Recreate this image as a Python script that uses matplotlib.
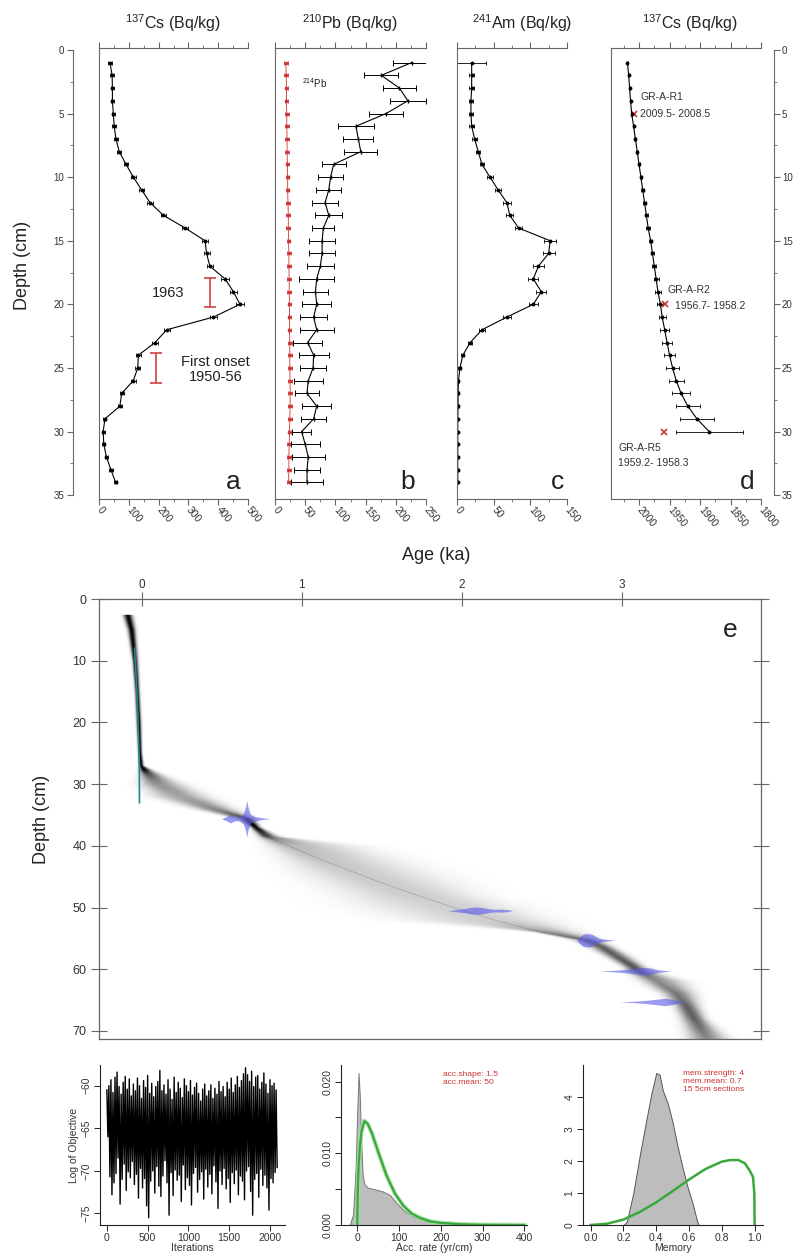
#!/usr/bin/env python3
"""Radionuclide profiles (a-d) and Bacon age-depth model (e) for core GR-A."""

import matplotlib
matplotlib.use("Agg")
import matplotlib.pyplot as plt
import numpy as np
from matplotlib.ticker import MultipleLocator

plt.rcParams["font.family"] = ["Liberation Sans", "DejaVu Sans"]
plt.rcParams["mathtext.fontset"] = "custom"
plt.rcParams["mathtext.rm"] = "Liberation Sans"
plt.rcParams["mathtext.it"] = "Liberation Sans:italic"
plt.rcParams["mathtext.bf"] = "Liberation Sans:bold"

# ---- a-c: activity profiles, one value per cm ----
depth_cm = list(range(1, 35))
cs137 = [37, 44, 45, 45, 48, 51, 57, 68, 91, 115, 143, 171, 216, 289, 356, 361, 372,
         423, 451, 473, 384, 227, 188, 132, 130, 115, 76, 70, 20, 14, 16, 25, 40, 56]
cs137_err = [6, 6, 6, 6, 6, 6, 6, 7, 7, 8, 8, 9, 9, 10, 10, 10, 11, 12, 12, 13, 12, 10,
             9, 8, 8, 8, 7, 7, 5, 5, 5, 5, 6, 6]
cs_event_x = [372, 191]
cs_event_top = [17.9, 23.8]
cs_event_bottom = [20.2, 26.2]

pb210 = [226, 176, 206, 220, 184, 134, 138, 142, 97, 92, 89, 83, 89, 80, 78, 78, 75,
         69, 67, 69, 64, 69, 54, 64, 63, 55, 53, 69, 64, 44, 50, 55, 53, 53]
pb210_err = [30, 28, 28, 30, 28, 30, 25, 27, 20, 20, 21, 22, 22, 18, 22, 21, 22, 29,
             21, 24, 22, 28, 24, 25, 22, 24, 20, 24, 21, 16, 24, 27, 22, 27]
pb214 = [18, 18.5, 19, 19, 19.5, 19.5, 20, 20, 20.5, 21, 21, 21.5, 22, 22, 22.5, 23, 23,
         23.5, 23.5, 24, 24, 24, 24.5, 24.5, 24.5, 25, 25, 25, 24.5, 24, 23.5, 23, 23, 22.5]
pb214_err = [3] * 34

am241 = [20, 20, 20, 19, 19, 20, 24, 29, 34, 45, 56, 68, 72, 84, 127, 125, 111, 104,
         115, 104, 68, 34, 18, 8, 4, 2, 1.5, 1.5, 1, 1, 1, 1, 1, 1]
am241_err = [20, 3, 3, 3, 3, 3, 3, 3, 3, 4, 4, 5, 5, 5, 8, 8, 7, 7, 7, 6, 5, 4, 3, 2,
             2, 1, 1, 1, 1, 1, 1, 1, 1, 1]

# ---- d: CRS ages (year AD) ----
crs_depth = list(range(1, 31))
crs_year = [2019, 2017, 2015.5, 2014, 2012, 2009, 2006, 2003, 2000, 1997, 1994, 1991,
            1988, 1985, 1981, 1978, 1975, 1972, 1969, 1965, 1962, 1958, 1954, 1950,
            1945, 1939, 1931, 1920, 1905, 1885]
crs_err = [1, 1, 1, 1, 1, 1.5, 1.5, 1.5, 2, 2, 2, 2.5, 2.5, 3, 3, 3, 3.5, 4, 4.5, 5, 6,
           7, 8, 9, 10, 12, 15, 20, 28, 55]
gr_depth = [5, 20, 30]
gr_year = [2009, 1957.5, 1958.7]
gr_name = ["GR-A-R1", "GR-A-R2", "GR-A-R5"]
gr_range = ["2009.5- 2008.5", "1956.7- 1958.2", "1959.2- 1958.3"]

# ---- e: age-depth model (ka) ----
band_depth = [2.5, 5, 10, 15, 20, 25, 27, 28, 30, 32, 34, 35.6, 37, 38.5, 40, 42, 44,
              46, 48, 50, 52, 53, 54, 55.3, 56.5, 58, 59.5, 60.3, 62, 64, 66, 68, 70, 71.3]
band_young = [-0.12, -0.09, -0.06, -0.045, -0.035, -0.025, -0.02, -0.015, -0.01, 0.07,
              0.33, 0.60, 0.68, 0.73, 0.79, 0.88, 0.97, 1.11, 1.25, 1.39, 1.65, 2.05,
              2.45, 2.70, 2.80, 2.90, 3.00, 3.03, 3.12, 3.25, 3.33, 3.37, 3.40, 3.41]
band_mid = [-0.09, -0.065, -0.045, -0.03, -0.02, -0.012, -0.005, 0.02, 0.10, 0.25, 0.45,
            0.656, 0.71, 0.78, 0.92, 1.10, 1.30, 1.50, 1.72, 1.95, 2.20, 2.35, 2.50,
            2.78, 2.88, 2.97, 3.06, 3.10, 3.22, 3.34, 3.40, 3.45, 3.50, 3.53]
band_old = [-0.06, -0.04, -0.025, -0.015, -0.005, 0.0, 0.01, 0.08, 0.25, 0.41, 0.57,
            0.70, 0.74, 0.85, 1.30, 1.55, 1.76, 1.95, 2.10, 2.35, 2.55, 2.62, 2.70,
            2.86, 2.95, 3.05, 3.13, 3.18, 3.38, 3.45, 3.48, 3.52, 3.60, 3.66]
pb_model_depth = [8, 15, 22, 27, 33]
pb_model_age = [-0.045, -0.03, -0.02, -0.015, -0.014]
date_depth = [35.6, 50.5, 55.3, 60.3, 65.3]
date_ages = [
    [0.50, 0.53, 0.555, 0.58, 0.61, 0.635, 0.65, 0.656, 0.665, 0.68, 0.71, 0.75, 0.80],
    [1.91, 1.96, 2.01, 2.05, 2.09, 2.13, 2.17, 2.21, 2.25, 2.29, 2.32],
    [2.72, 2.74, 2.76, 2.79, 2.82, 2.85, 2.88, 2.92, 2.96],
    [2.86, 2.94, 3.02, 3.08, 3.13, 3.18, 3.23, 3.31],
    [2.99, 3.07, 3.15, 3.22, 3.27, 3.31, 3.36, 3.42],
]
date_half = [
    [0, 0.35, 0.7, 0.35, 0.3, 0.8, 2.0, 3.0, 1.8, 0.7, 0.35, 0.15, 0],
    [0, 0.15, 0.3, 0.5, 0.6, 0.5, 0.3, 0.2, 0.25, 0.15, 0],
    [0, 0.6, 1.0, 1.1, 0.9, 0.45, 0.2, 0.1, 0],
    [0, 0.1, 0.25, 0.45, 0.6, 0.5, 0.2, 0],
    [0, 0.1, 0.25, 0.45, 0.6, 0.45, 0.15, 0],
]

# ---- bottom: MCMC diagnostics ----
trace_hi = [-60.5, -60.0, -59.3, -60.8, -59.0, -58.4, -60.1, -61.0, -59.6, -58.9, -60.4,
            -59.2, -61.2, -59.8, -60.6, -59.1, -60.0, -61.5, -59.4, -60.2, -58.8, -60.9,
            -59.7, -61.3, -60.1, -59.5, -58.2, -60.6, -59.9, -61.0, -59.3, -60.4, -61.6,
            -59.0, -60.8, -59.6, -60.3, -61.4, -59.2, -60.0, -60.7, -59.4, -61.1, -60.2,
            -59.7, -60.9, -61.8, -60.4, -59.8, -61.2, -60.6, -59.9, -61.5, -60.3, -61.0,
            -59.5, -60.7, -60.1, -61.3, -59.6, -60.4, -59.1, -60.8, -59.9, -58.9, -60.2,
            -59.4, -58.6, -57.9, -58.7, -59.5, -58.3, -60.1, -59.0, -58.8, -60.4, -59.6,
            -58.5, -59.8, -60.9, -59.3, -60.0, -59.7, -60.5]
trace_lo = [-66.0, -70.7, -72.8, -71.4, -70.3, -68.5, -73.9, -71.0, -69.2, -72.3, -70.1,
            -70.8, -68.9, -71.6, -70.4, -73.2, -69.7, -72.0, -70.9, -74.1, -75.5, -71.2,
            -70.0, -72.6, -69.5, -71.8, -73.0, -70.6, -68.8, -71.4, -75.2, -70.2, -72.9,
            -69.9, -71.1, -70.5, -73.6, -69.3, -72.2, -70.8, -71.7, -74.0, -70.3, -69.6,
            -72.5, -71.0, -70.1, -73.3, -69.8, -71.9, -70.4, -72.7, -69.4, -71.3, -74.4,
            -70.0, -71.6, -69.7, -72.1, -70.9, -73.7, -70.2, -71.5, -69.9, -72.8, -70.6,
            -71.2, -73.4, -70.0, -69.5, -72.4, -75.2, -71.0, -70.3, -73.1, -69.8, -71.7,
            -70.5, -72.0, -74.6, -70.9, -71.4, -70.2, -69.6]
trace_step = 25

acc_x = [-18, -10, -4, 0, 3, 6, 9, 13, 17, 25, 40, 60, 78, 95, 110, 134, 166, 206, 250]
acc_post = [0, 0.0015, 0.008, 0.016, 0.0212, 0.018, 0.012, 0.007, 0.0057, 0.0052, 0.0050,
            0.0047, 0.0042, 0.0030, 0.0021, 0.0012, 0.0005, 0.0002, 0]
acc_prior_x = [0, 1, 3, 6, 10, 17, 25, 35, 50, 70, 90, 110, 130, 150, 175, 200, 250, 300, 400]
acc_prior = [0, 0.0046, 0.0080, 0.0108, 0.0130, 0.0145, 0.0141, 0.0128, 0.0102, 0.0069,
             0.0044, 0.0027, 0.0016, 0.0010, 0.0005, 0.0003, 0.0001, 0.00003, 0]
mem_x = [0.20, 0.22, 0.26, 0.30, 0.34, 0.37, 0.40, 0.42, 0.44, 0.47, 0.50, 0.53, 0.56,
         0.59, 0.62, 0.65, 0.66]
mem_post = [0, 0.1, 1.0, 2.2, 3.3, 4.1, 4.75, 4.7, 4.2, 3.8, 3.2, 2.45, 1.8, 1.2, 0.7, 0.1, 0]
mem_prior_x = [0, 0.1, 0.2, 0.3, 0.4, 0.5, 0.6, 0.7, 0.8, 0.85, 0.9, 0.94, 0.97, 0.99,
               0.998, 1.0]
mem_prior = [0, 0.04, 0.17, 0.41, 0.71, 1.06, 1.42, 1.75, 1.98, 2.03, 2.03, 1.93, 1.70,
             1.50, 1.0, 0]

W, H = 797, 1260
INK = "#333333"
SPINE = "#666666"
RED = "#cc3333"
GREEN = "#3aa83a"

fig = plt.figure(figsize=(W / 100, H / 100), dpi=100)


def px_rect(x0, y0, x1, y1):
    return [x0 / W, 1 - y1 / H, (x1 - x0) / W, (y1 - y0) / H]


def profile_axis(x0, x1, xlim, major, minor):
    ax = fig.add_axes(px_rect(x0, 48, x1, 499))
    ax.set_xlim(*xlim)
    ax.set_ylim(35.3, -0.15)
    for side in ("top", "bottom", "left", "right"):
        ax.spines[side].set_color(SPINE)
        ax.spines[side].set_linewidth(0.8)
    ax.spines["right"].set_visible(False)
    ax.xaxis.set_major_locator(MultipleLocator(major))
    ax.xaxis.set_minor_locator(MultipleLocator(minor))
    ax.tick_params(axis="x", which="both", top=True, bottom=True, direction="out",
                   color=SPINE, labelsize=7.5, labelcolor=INK, pad=2)
    ax.tick_params(axis="x", which="major", length=4.5)
    ax.tick_params(axis="x", which="minor", length=2.5)
    ax.tick_params(axis="y", which="both", left=False, right=False, labelleft=False)
    for lab in ax.get_xticklabels():
        lab.set(rotation=-50, ha="left", va="center", rotation_mode="anchor")
    return ax


def depth_scale(ax, side, offset):
    ax.spines[side].set_visible(True)
    ax.spines[side].set_position(("outward", offset))
    ax.spines[side].set_bounds(0, 35)
    ax.yaxis.set_major_locator(MultipleLocator(5))
    ax.yaxis.set_minor_locator(MultipleLocator(2.5))
    ax.yaxis.set_ticks_position(side)
    ax.tick_params(axis="y", which="both", direction="out", color=SPINE, labelsize=7,
                   labelcolor=INK, pad=2, **{side: True, "label" + side: True})
    ax.tick_params(axis="y", which="major", length=4)
    ax.tick_params(axis="y", which="minor", length=2.5)


def panel_letter(ax, x, letter):
    ax.text(x, 0.022, letter, transform=ax.transAxes, fontsize=19, ha="center",
            va="baseline", color="#222222")


def title(x, text):
    fig.text(x / W, 1 - 23 / H, text, ha="center", va="center", fontsize=11.5, color="#222222")


eb = dict(color="black", lw=0.8, elinewidth=0.6, capsize=1.6, capthick=0.6, marker="o", ms=1.8)

# a: 137Cs
ax_a = profile_axis(99, 248, (0, 500), 100, 50)
depth_scale(ax_a, "left", 19)
ax_a.axvline(0, color=SPINE, lw=0.8, clip_on=False)
ax_a.errorbar(cs137, depth_cm, xerr=cs137_err, **eb)
for x, top, bottom in zip(cs_event_x, cs_event_top, cs_event_bottom):
    ax_a.errorbar([x], [(top + bottom) / 2], yerr=[(bottom - top) / 2], color=RED, lw=0,
                  elinewidth=1.1, capsize=4.5, capthick=1.1)
ax_a.text(231, 19.1, "1963", fontsize=10.5, ha="center", va="center", color="#222222")
ax_a.text(392, 25.1, "First onset\n1950-56", fontsize=10.5, ha="center", va="center",
          color="#222222", linespacing=1.05)
panel_letter(ax_a, 0.90, "a")
title(173, r"$^{137}$Cs (Bq/kg)")
fig.text(23 / W, 1 - 265 / H, "Depth (cm)", rotation=90, ha="center", va="center",
         fontsize=13, color="#222222")

# b: 210Pb and 214Pb
ax_b = profile_axis(275, 426, (0, 250), 50, 25)
ax_b.errorbar(pb214, depth_cm, xerr=pb214_err, color=RED, lw=0.6, elinewidth=0.6,
              capsize=1.5, capthick=0.6, marker="o", ms=1.6)
ax_b.errorbar(pb210, depth_cm, xerr=pb210_err, color="black", lw=0.8, elinewidth=0.7,
              capsize=2.2, capthick=0.7, marker="|", ms=3)
ax_b.text(45, 2.6, r"$^{214}$Pb", fontsize=7, ha="left", va="center", color="#222222")
panel_letter(ax_b, 0.88, "b")
title(350, r"$^{210}$Pb (Bq/kg)")

# c: 241Am
ax_c = profile_axis(457, 567, (0, 150), 50, 25)
ax_c.errorbar(am241, depth_cm, xerr=am241_err, **eb)
panel_letter(ax_c, 0.91, "c")
title(522, r"$^{241}$Am (Bq/kg)")

# d: CRS ages with the 14C-dated levels
ax_d = profile_axis(611, 761, (2046, 1800), 50, 25)
depth_scale(ax_d, "right", 9)
ax_d.tick_params(axis="y", which="both", left=False, labelleft=False)
ax_d.errorbar(crs_year, crs_depth, xerr=crs_err, **eb)
ax_d.plot(gr_year, gr_depth, "x", color=RED, ms=4, mew=1.2)
name_pos = [(1998.4, 3.7), (1954, 18.9), (2034.5, 31.3)]
range_pos = [(1998.4, 5.0), (1941, 20.1), (2034.5, 32.5)]
for name, rng, npos, rpos in zip(gr_name, gr_range, name_pos, range_pos):
    ax_d.text(*npos, name, fontsize=7.5, ha="left", va="center", color="#333333")
    ax_d.text(*rpos, rng, fontsize=7.5, ha="left", va="center", color="#333333")
panel_letter(ax_d, 0.905, "d")
title(690, r"$^{137}$Cs (Bq/kg)")

# e: age-depth model, grey density from the model ranges
ax_e = fig.add_axes(px_rect(99, 599, 761, 1039))
x_lo, x_hi, d_bottom = -0.267, 3.871, 71.3
ages_grid = np.linspace(x_lo, x_hi, 900)
depth_grid = np.linspace(0, d_bottom, 640)
young = np.interp(depth_grid, band_depth, band_young)
mid = np.interp(depth_grid, band_depth, band_mid)
old = np.interp(depth_grid, band_depth, band_old)
inside = (depth_grid >= band_depth[0]).astype(float)
sig_young = np.maximum(mid - young, 0.004) / 1.6
sig_old = np.maximum(old - mid, 0.004) / 1.6
A = ages_grid[None, :]
sig = np.where(A < mid[:, None], sig_young[:, None], sig_old[:, None])
dens = np.exp(-0.5 * ((A - mid[:, None]) / sig) ** 2)
strength = np.clip(0.18 / (old - young) ** 0.65, 0, 1)
rgba = np.zeros(dens.shape + (4,))
rgba[..., 3] = dens * strength[:, None] * inside[:, None]
ax_e.imshow(rgba, extent=[x_lo, x_hi, d_bottom, 0], aspect="auto", origin="upper",
            interpolation="bilinear", zorder=1)
ax_e.plot(band_mid[12:], band_depth[12:], color="#555555", lw=0.5, alpha=0.35, zorder=2)
ax_e.plot(pb_model_age, pb_model_depth, color="#1f8a8a", lw=1.2, zorder=2)
for dp, ages, half in zip(date_depth, date_ages, date_half):
    ax_e.fill_between(ages, [dp - h for h in half], [dp + h for h in half],
                      color="#5858ea", alpha=0.6, lw=0, zorder=3)
ax_e.set_xlim(x_lo, x_hi)
ax_e.set_ylim(d_bottom, 0)
for side in ax_e.spines.values():
    side.set_color(SPINE)
    side.set_linewidth(0.9)
ax_e.xaxis.set_major_locator(MultipleLocator(1))
ax_e.yaxis.set_major_locator(MultipleLocator(10))
ax_e.tick_params(axis="x", top=True, bottom=False, labeltop=True, labelbottom=False,
                 direction="inout", length=10, color=SPINE, labelsize=8.5, labelcolor=INK, pad=1)
ax_e.tick_params(axis="y", left=True, right=True, labelleft=True, labelright=False,
                 direction="inout", length=12, color=SPINE, labelsize=9, labelcolor=INK, pad=3)
ax_e.text(0.953, 0.914, "e", transform=ax_e.transAxes, fontsize=19, ha="center",
          va="baseline", color="#222222")
fig.text(436 / W, 1 - 555 / H, "Age (ka)", ha="center", va="center", fontsize=13,
         color="#222222")
fig.text(42 / W, 1 - 819 / H, "Depth (cm)", rotation=90, ha="center", va="center",
         fontsize=13, color="#222222")


# bottom diagnostics, R-style L boxes
def r_axis(x0, x1, xlim, ylim):
    ax = fig.add_axes(px_rect(x0, 1065, x1, 1225))
    ax.set_xlim(*xlim)
    ax.set_ylim(*ylim)
    ax.spines[["top", "right"]].set_visible(False)
    for side in ("left", "bottom"):
        ax.spines[side].set_color("#222222")
        ax.spines[side].set_linewidth(0.8)
    ax.tick_params(direction="out", length=4, width=0.7, labelsize=7.5, pad=2,
                   color="#222222", labelcolor=INK)
    return ax


ax_t = r_axis(100, 285, (-84, 2184), (-76.35, -57.57))
n = len(trace_hi)
tx = np.empty(2 * n)
ty = np.empty(2 * n)
tx[0::2] = np.arange(n) * trace_step
tx[1::2] = np.arange(n) * trace_step + trace_step / 2
ty[0::2] = trace_hi
ty[1::2] = trace_lo
ax_t.plot(tx, ty, color="black", lw=1.0)
ax_t.set_xticks([0, 500, 1000, 1500, 2000])
ax_t.set_yticks([-75, -70, -65, -60])
ax_t.set_xlabel("Iterations", fontsize=7.5, labelpad=0, color=INK)
ax_t.set_ylabel("Log of Objective", fontsize=7.5, labelpad=2, color=INK)

ax_acc = r_axis(341, 527, (-39, 406.5), (0, 0.0223))
ax_acc.fill_between(acc_x, 0, acc_post, color="#bdbdbd", edgecolor="#777777", lw=0.7)
ax_acc.plot(acc_prior_x, acc_prior, color="#9be39b", lw=3.2, alpha=0.8)
ax_acc.plot(acc_prior_x, acc_prior, color=GREEN, lw=1.6)
ax_acc.set_xticks([0, 100, 200, 300, 400])
ax_acc.set_yticks([0, 0.005, 0.010, 0.015, 0.020])
ax_acc.set_yticklabels(["0.000", "", "0.010", "", "0.020"])
ax_acc.set_xlabel("Acc. rate (yr/cm)", fontsize=7.5, labelpad=0, color=INK)
ax_acc.text(0.548, 0.96, "acc.shape: 1.5\nacc.mean: 50", transform=ax_acc.transAxes,
            fontsize=6, color=RED, ha="left", va="top", linespacing=1.2)

ax_mem = r_axis(583, 763, (-0.047, 1.051), (0, 5.0))
ax_mem.fill_between(mem_x, 0, mem_post, color="#bdbdbd", edgecolor="#555555", lw=0.7)
ax_mem.plot(mem_prior_x, mem_prior, color=GREEN, lw=1.8)
ax_mem.set_xticks([0, 0.2, 0.4, 0.6, 0.8, 1.0])
ax_mem.set_xticklabels(["0.0", "0.2", "0.4", "0.6", "0.8", "1.0"])
ax_mem.set_yticks([0, 1, 2, 3, 4])
ax_mem.set_xlabel("Memory", fontsize=7.5, labelpad=0, color=INK)
ax_mem.text(0.556, 0.97, "mem.strength: 4\nmem.mean: 0.7\n15 5cm sections",
            transform=ax_mem.transAxes, fontsize=6, color=RED, ha="left", va="top",
            linespacing=1.2)

for ax in (ax_t, ax_acc, ax_mem):
    plt.setp(ax.get_yticklabels(), rotation=90, va="center")

fig.savefig("out.png", dpi=100)
